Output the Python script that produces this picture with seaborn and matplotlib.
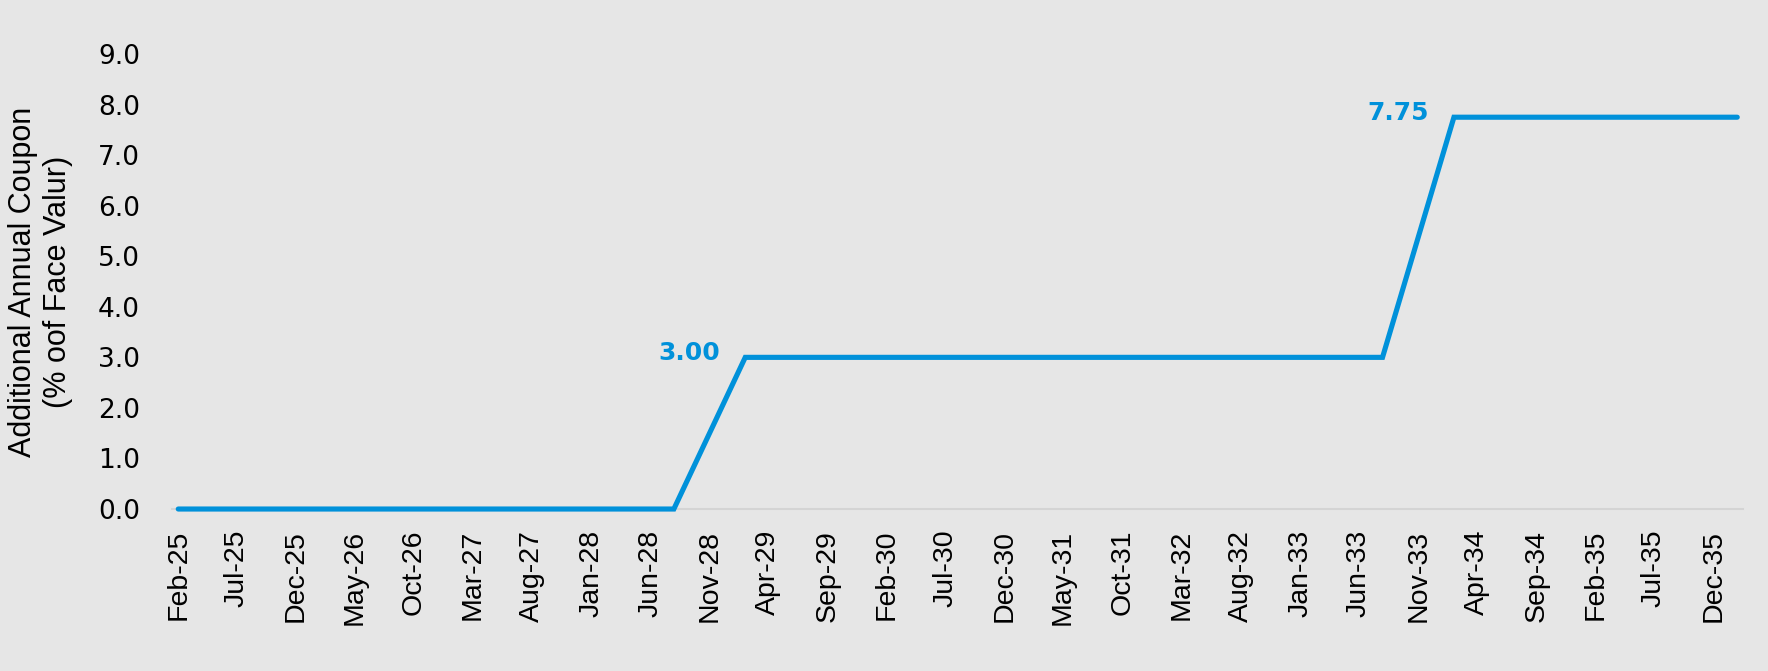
import matplotlib
matplotlib.use("Agg")
import matplotlib.pyplot as plt
import seaborn as sns
import pandas as pd

# ---- data ----
dates = ["Feb-25", "Aug-25", "Feb-26", "Aug-26", "Feb-27", "Aug-27", "Feb-28", "Aug-28",
         "Feb-29", "Aug-29", "Feb-30", "Aug-30", "Feb-31", "Aug-31", "Feb-32", "Aug-32",
         "Feb-33", "Aug-33", "Feb-34", "Aug-34", "Feb-35", "Aug-35", "Feb-36"]
coupon = [0, 0, 0, 0, 0, 0, 0, 0,
          3.00, 3.00, 3.00, 3.00, 3.00, 3.00, 3.00, 3.00,
          3.00, 3.00, 7.75, 7.75, 7.75, 7.75, 7.75]
tick_labels = ["Feb-25", "Jul-25", "Dec-25", "May-26", "Oct-26", "Mar-27", "Aug-27",
               "Jan-28", "Jun-28", "Nov-28", "Apr-29", "Sep-29", "Feb-30", "Jul-30",
               "Dec-30", "May-31", "Oct-31", "Mar-32", "Aug-32", "Jan-33", "Jun-33",
               "Nov-33", "Apr-34", "Sep-34", "Feb-35", "Jul-35", "Dec-35"]
ann_dates = ["Feb-29", "Feb-34"]
ann_values = [3.00, 7.75]
ylabel = "Additional Annual Coupon\n(% oof Face Valur)"

BG = "#E6E6E6"
BLUE = "#0091DA"

sns.set_theme(style="white")
plt.rcParams["font.family"] = ["Liberation Sans", "DejaVu Sans"]
plt.rcParams["text.color"] = "black"
plt.rcParams["axes.labelcolor"] = "black"
plt.rcParams["xtick.color"] = "black"
plt.rcParams["ytick.color"] = "black"

df = pd.DataFrame({"date": pd.to_datetime(dates, format="%b-%y"), "coupon": coupon})

fig = plt.figure(figsize=(17.68, 6.71), dpi=100, facecolor=BG)
ax = fig.add_axes([0.0973, 0.2414, 0.9859 - 0.0973, 0.9195 - 0.2414])
ax.set_facecolor(BG)

sns.lineplot(data=df, x="date", y="coupon", ax=ax, color=BLUE, linewidth=3.7,
             solid_capstyle="round", solid_joinstyle="miter", clip_on=False, zorder=3)

xmin = pd.Timestamp("2025-02-01") - pd.Timedelta(days=16)
xmax = pd.Timestamp("2036-02-01") + pd.Timedelta(days=15)
ax.set_xlim(xmin, xmax)
ax.set_ylim(0, 9.0)

ticks = pd.to_datetime(tick_labels, format="%b-%y")
ax.set_xticks(ticks)
ax.set_xticklabels(tick_labels, rotation=90, fontsize=20.5, family="Liberation Sans", color="black")
ax.set_yticks([i * 1.0 for i in range(10)])
ax.set_yticklabels([f"{i:.1f}" for i in range(10)], fontsize=19, family="DejaVu Sans", color="black")
ax.tick_params(axis="x", length=0, pad=15)
ax.tick_params(axis="y", length=0, pad=23)

for s in ["top", "right", "left"]:
    ax.spines[s].set_visible(False)
ax.spines["bottom"].set_color("#D4D4D4")
ax.spines["bottom"].set_linewidth(1.5)

ax.set_xlabel("")
ax.set_ylabel(ylabel, fontsize=22, linespacing=1.2, family="Liberation Sans", color="black")
ax.yaxis.set_label_coords(-0.063, 0.5)

for d, v in zip(ann_dates, ann_values):
    ax.annotate(f"{v:.2f}", xy=(pd.to_datetime(d, format="%b-%y"), v),
                xytext=(-18, 3), textcoords="offset points", ha="right", va="center",
                color=BLUE, fontsize=18, fontweight="bold", family="DejaVu Sans")

fig.savefig("out.png", dpi=100, facecolor=BG)
